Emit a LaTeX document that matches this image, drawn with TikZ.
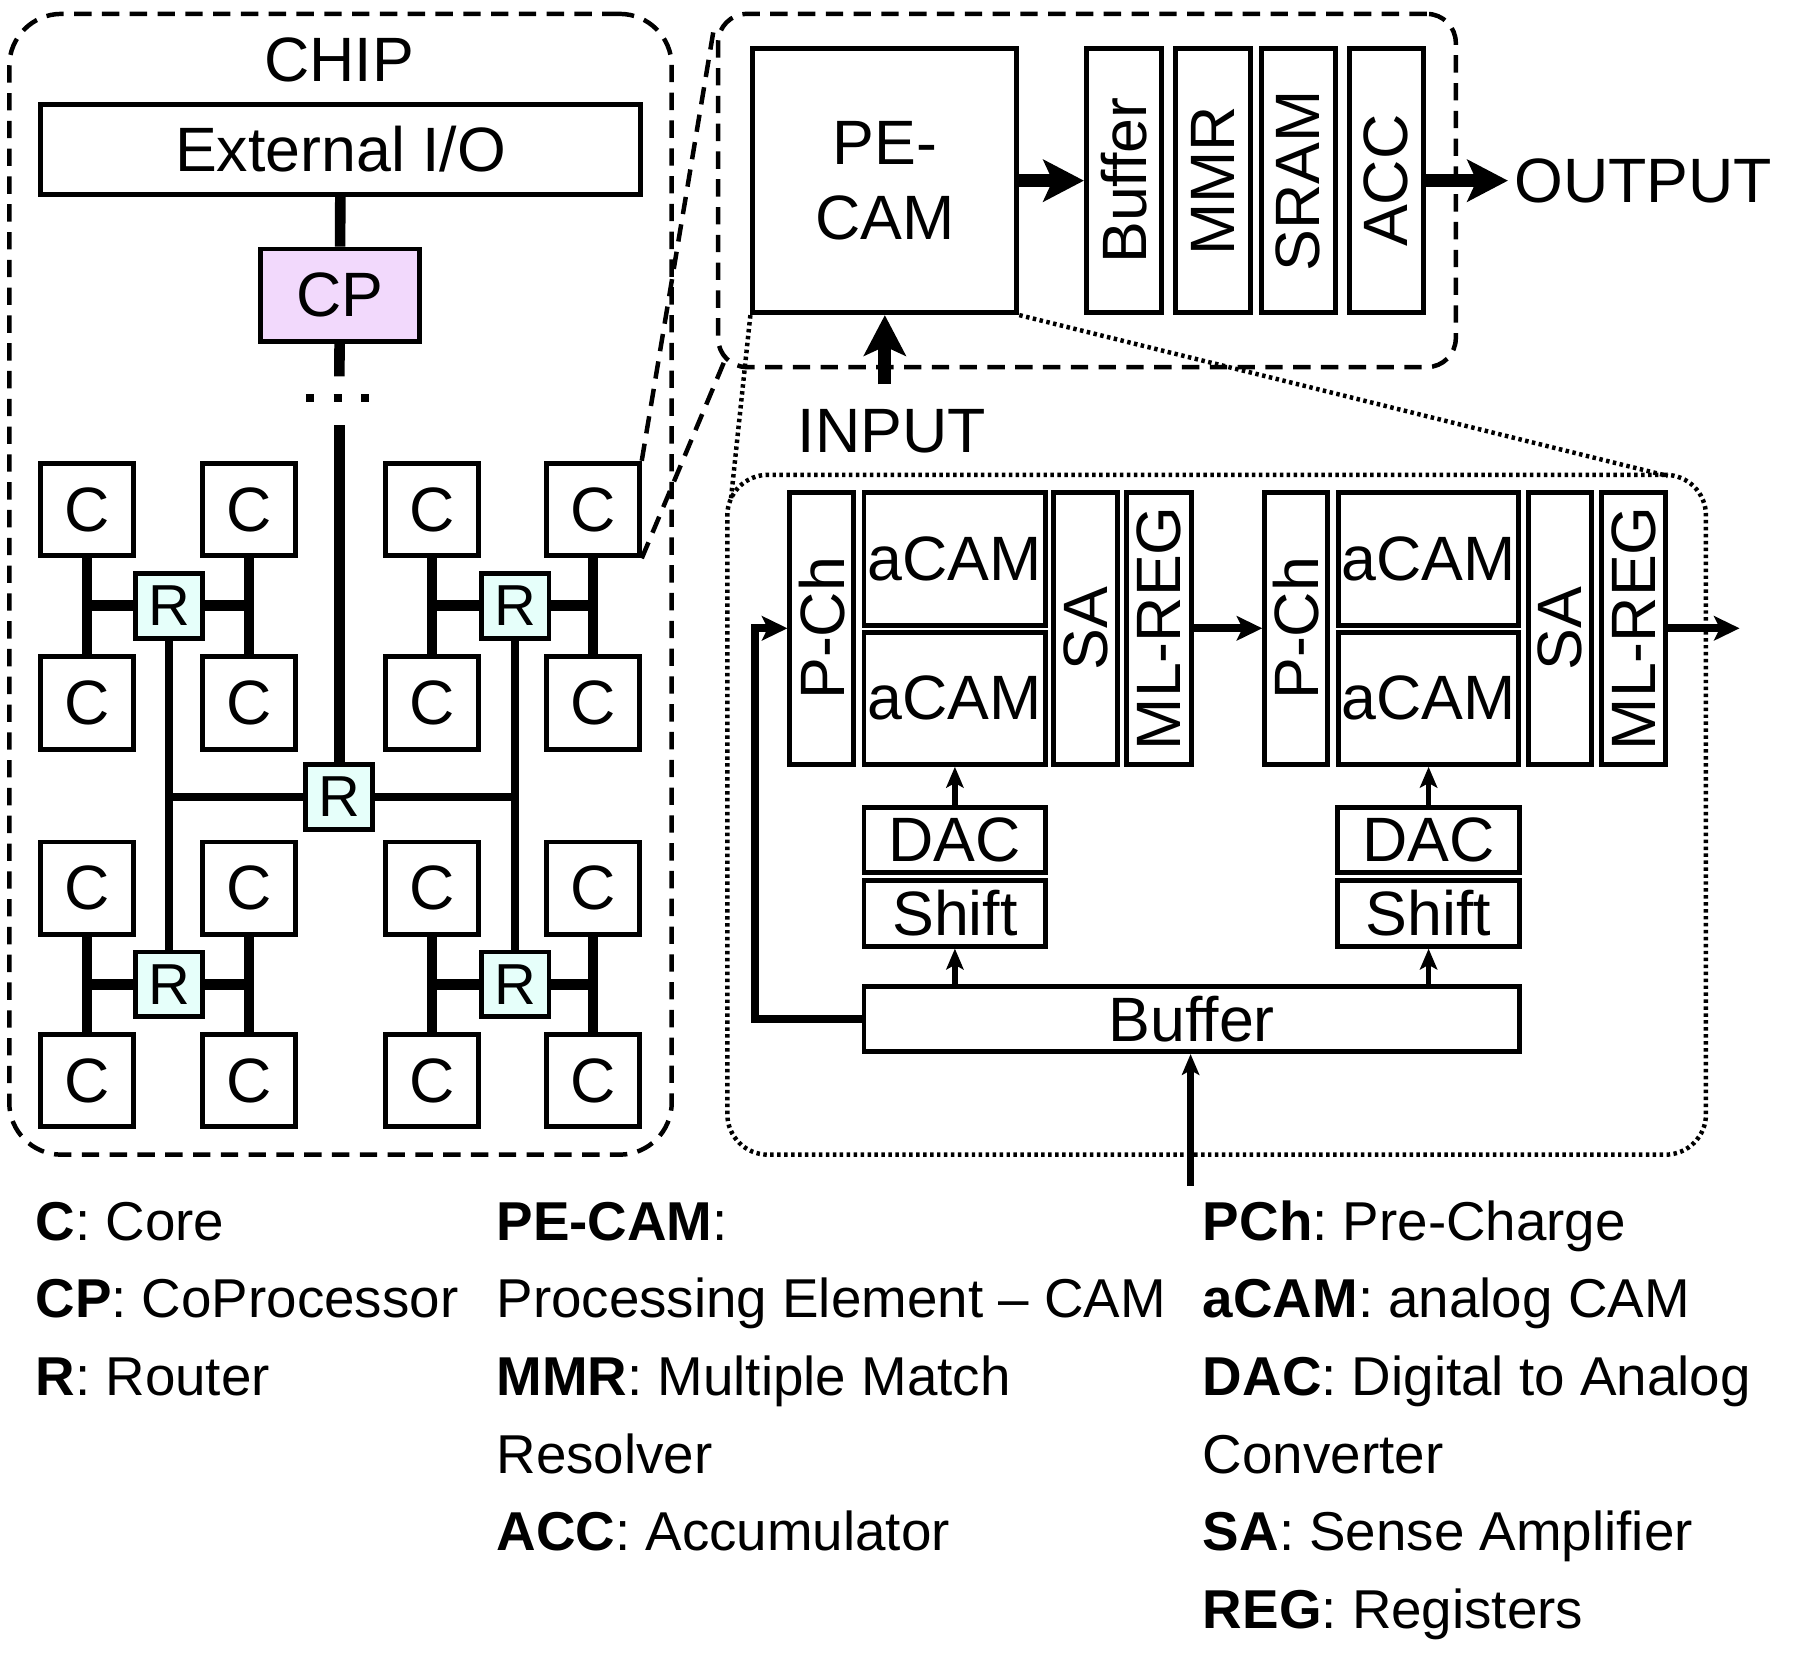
\documentclass[tikz,border=0pt]{standalone}
\usepackage{fontspec}
\setmainfont{Liberation Sans}
\usetikzlibrary{arrows.meta}
\definecolor{cpfill}{RGB}{242,217,252}
\definecolor{rfill}{RGB}{230,255,250}
\frenchspacing
\begin{document}
\begin{tikzpicture}[x=0.1mm,y=-0.1mm]
			\tikzstyle{lbl}=[inner sep=0.5mm,font=\fontsize{15.4}{18.6}\selectfont]
			\tikzstyle{blk}=[draw,line width=1.2pt,inner sep=0,font=\fontsize{15.4}{18.6}\selectfont]
			\tikzstyle{core}=[blk,minimum width=8mm,minimum height=8mm]
			\tikzstyle{rt}=[blk,fill=rfill,minimum width=5.8mm,minimum height=5.6mm,font=\fontsize{14.2}{17}\selectfont]
			\tikzstyle{vblk}=[blk,rotate=90]
			\tikzstyle{net}=[line width=2.6pt]
			\tikzstyle{bus}=[line width=2pt]
			\tikzstyle{big}=[-{Stealth[length=3.5mm,width=3.6mm,inset=0.8mm]},line width=3.2pt]
			\tikzstyle{mid}=[-{Stealth[length=2.2mm,width=2.1mm,inset=0.5mm]},line width=2pt]
			\tikzstyle{thin}=[-{Stealth[length=1.8mm,width=1.5mm,inset=0.4mm]},line width=1.3pt]
			\tikzstyle{outl}=[draw,line width=1.1pt,dash pattern=on 1.5mm off 0.9mm]
			\tikzstyle{outp}=[draw,line width=1.1pt,dash pattern=on 0.3mm off 0.3mm]
			\tikzstyle{lgd}=[anchor=base west,inner sep=0,font=\fontsize{13.45}{16}\selectfont]
			
			\useasboundingbox (0,0) rectangle (1568,1446);
			
			\node [outl,rounded corners=4.5mm,minimum width=57.2mm,minimum height=98.5mm] (chip) at (294,504.5) {};
			\node [outl,rounded corners=2.5mm,minimum width=63.7mm,minimum height=30.5mm] (pe) at (938.5,164.5) {};
			\node [outp,rounded corners=3.5mm,minimum width=84.5mm,minimum height=58.7mm] (cam) at (1050.5,703.5) {};
			
			\node [lbl] (chiplbl) at (293,52) {CHIP};
			\node [blk,minimum width=51.8mm,minimum height=7.8mm] (io) at (294,129) {External I/O};
			\node [blk,fill=cpfill,minimum width=13.7mm,minimum height=8mm] (cp) at (293.5,255) {CP};
			\coordinate (d1) at (293,325);
			\coordinate (d2) at (293,367);
			
			\node [core] (c11) at ( 75,440) {C};
			\node [core] (c12) at (215,440) {C};
			\node [core] (c13) at (373,440) {C};
			\node [core] (c14) at (512,440) {C};
			\node [core] (c21) at ( 75,607) {C};
			\node [core] (c22) at (215,607) {C};
			\node [core] (c23) at (373,607) {C};
			\node [core] (c24) at (512,607) {C};
			\node [core] (c31) at ( 75,767) {C};
			\node [core] (c32) at (215,767) {C};
			\node [core] (c33) at (373,767) {C};
			\node [core] (c34) at (512,767) {C};
			\node [core] (c41) at ( 75,933) {C};
			\node [core] (c42) at (215,933) {C};
			\node [core] (c43) at (373,933) {C};
			\node [core] (c44) at (512,933) {C};
			
			\node [rt] (r1) at (146,523) {R};
			\node [rt] (r2) at (445,523) {R};
			\node [rt] (r0) at (293,688) {R};
			\node [rt] (r3) at (146,850) {R};
			\node [rt] (r4) at (445,850) {R};
			
			\draw[net] (io)--(cp);
			\draw[net] (cp)--(d1);
			\draw[line width=0.7mm,dash pattern=on 0.7mm off 1.7mm] (264,344)--(322,344);
			\draw[net] (d2)--(r0);
			
			\draw[net] (c11)--(c21);
			\draw[net] (c12)--(c22);
			\draw[net] (r1)--(r1 -| c11);
			\draw[net] (r1)--(r1 -| c12);
			\draw[net] (c13)--(c23);
			\draw[net] (c14)--(c24);
			\draw[net] (r2)--(r2 -| c13);
			\draw[net] (r2)--(r2 -| c14);
			\draw[net] (c31)--(c41);
			\draw[net] (c32)--(c42);
			\draw[net] (r3)--(r3 -| c31);
			\draw[net] (r3)--(r3 -| c32);
			\draw[net] (c33)--(c43);
			\draw[net] (c34)--(c44);
			\draw[net] (r4)--(r4 -| c33);
			\draw[net] (r4)--(r4 -| c34);
			
			\draw[bus] (r1)--(r3);
			\draw[bus] (r2)--(r4);
			\draw[bus] (r0)--(r0 -| r1);
			\draw[bus] (r0)--(r0 -| r2);
			
			\node [blk,align=center,minimum width=22.8mm,minimum height=22.8mm] (pecam) at (764,156) {PE-\\CAM};
			\node [vblk,minimum width=22.8mm,minimum height=6.5mm] (buf1) at ( 970.5,156) {Buffer};
			\node [vblk,minimum width=22.8mm,minimum height=6.5mm] (mmr) at (1047.5,156) {MMR};
			\node [vblk,minimum width=22.8mm,minimum height=6.4mm] (sram) at (1121,156) {SRAM};
			\node [vblk,minimum width=22.8mm,minimum height=6.4mm] (acc) at (1197,156) {ACC};
			\node [lbl,anchor=west] (outlbl) at (1302,156) {OUTPUT};
			\node [lbl] (inlbl) at (770,372) {INPUT};
			\coordinate (inp) at (764,332);
			
			\draw[big] (pecam)--(buf1);
			\draw[big] (acc)--(outlbl);
			\draw[big] (inp)--(pecam);
			
			\coordinate (zt) at (617,21);
			\coordinate (zb) at (625,313);
			\coordinate (pt) at (631,432);
			\coordinate (pb) at (1440,411);
			\draw[outl] (c14.north east)--(zt);
			\draw[outl] (c14.south east)--(zb);
			\draw[outp] (pecam.south west)--(pt);
			\draw[outp] (pecam.south east)--(pb);
			
			\node [vblk,minimum width=23.5mm,minimum height=5.5mm] (pch1) at (709.5,542.5) {P-Ch};
			\node [blk,minimum width=15.7mm,minimum height=11.5mm] (acama1) at (824.5,482.5) {aCAM};
			\node [blk,minimum width=15.7mm,minimum height=11.4mm] (acamb1) at (824.5,603) {aCAM};
			\node [vblk,minimum width=23.5mm,minimum height=5.5mm] (sa1) at (937.5,542.5) {SA};
			\node [vblk,minimum width=23.5mm,minimum height=5.6mm] (mlreg1) at (1001,542.5) {ML-REG};
			\node [vblk,minimum width=23.5mm,minimum height=5.4mm] (pch2) at (1119,542.5) {P-Ch};
			\node [blk,minimum width=15.5mm,minimum height=11.5mm] (acama2) at (1233.5,482.5) {aCAM};
			\node [blk,minimum width=15.5mm,minimum height=11.4mm] (acamb2) at (1233.5,603) {aCAM};
			\node [vblk,minimum width=23.5mm,minimum height=5.4mm] (sa2) at (1347,542.5) {SA};
			\node [vblk,minimum width=23.5mm,minimum height=5.5mm] (mlreg2) at (1410.5,542.5) {ML-REG};
			\coordinate (camout) at (1502,542.5);
			
			\node [blk,minimum width=15.7mm,minimum height=5.6mm] (dac1) at (824.5,725) {DAC};
			\node [blk,minimum width=15.7mm,minimum height=5.7mm] (shift1) at (824.5,788.5) {Shift};
			\node [blk,minimum width=15.7mm,minimum height=5.6mm] (dac2) at (1233.5,725) {DAC};
			\node [blk,minimum width=15.7mm,minimum height=5.7mm] (shift2) at (1233.5,788.5) {Shift};
			\node [blk,minimum width=56.6mm,minimum height=5.6mm] (buf) at (1029,880) {Buffer};
			\coordinate (fb) at (652,700);
			\coordinate (bin) at (1028,1024);
			
			\draw[mid] (mlreg1)--(pch2);
			\draw[mid] (mlreg2)--(camout);
			\draw[mid] (buf.west) -| (fb) |- (pch1);
			\draw[thin] (dac1)--(acamb1);
			\draw[thin] (dac2)--(acamb2);
			\draw[thin] (shift1 |- buf.north)--(shift1);
			\draw[thin] (shift2 |- buf.north)--(shift2);
			\draw[thin,line width=1.8pt] (bin)--(bin |- buf.south);
			
			\node [lgd] (lc) at (30,1071) {\textbf{C}: Core};
			\node [lgd] (lcp) at (30,1138) {\textbf{CP}: CoProcessor};
			\node [lgd] (lr) at (30,1205) {\textbf{R}: Router};
			\node [lgd] (lpe) at (428,1071) {\textbf{PE-CAM}:};
			\node [lgd] (lpe2) at (428,1138) {Processing Element – CAM};
			\node [lgd] (lmmr) at (428,1205) {\textbf{MMR}: Multiple Match};
			\node [lgd] (lmmr2) at (428,1272) {Resolver};
			\node [lgd] (lacc) at (428,1339) {\textbf{ACC}: Accumulator};
			\node [lgd] (lpch) at (1038,1071) {\textbf{PCh}: Pre-Charge};
			\node [lgd] (lacam) at (1038,1138) {\textbf{aCAM}: analog CAM};
			\node [lgd] (ldac) at (1038,1205) {\textbf{DAC}: Digital to Analog};
			\node [lgd] (ldac2) at (1038,1272) {Converter};
			\node [lgd] (lsa) at (1038,1339) {\textbf{SA}: Sense Amplifier};
			\node [lgd] (lreg) at (1038,1406) {\textbf{REG}: Registers};
		\end{tikzpicture}
\end{document}
